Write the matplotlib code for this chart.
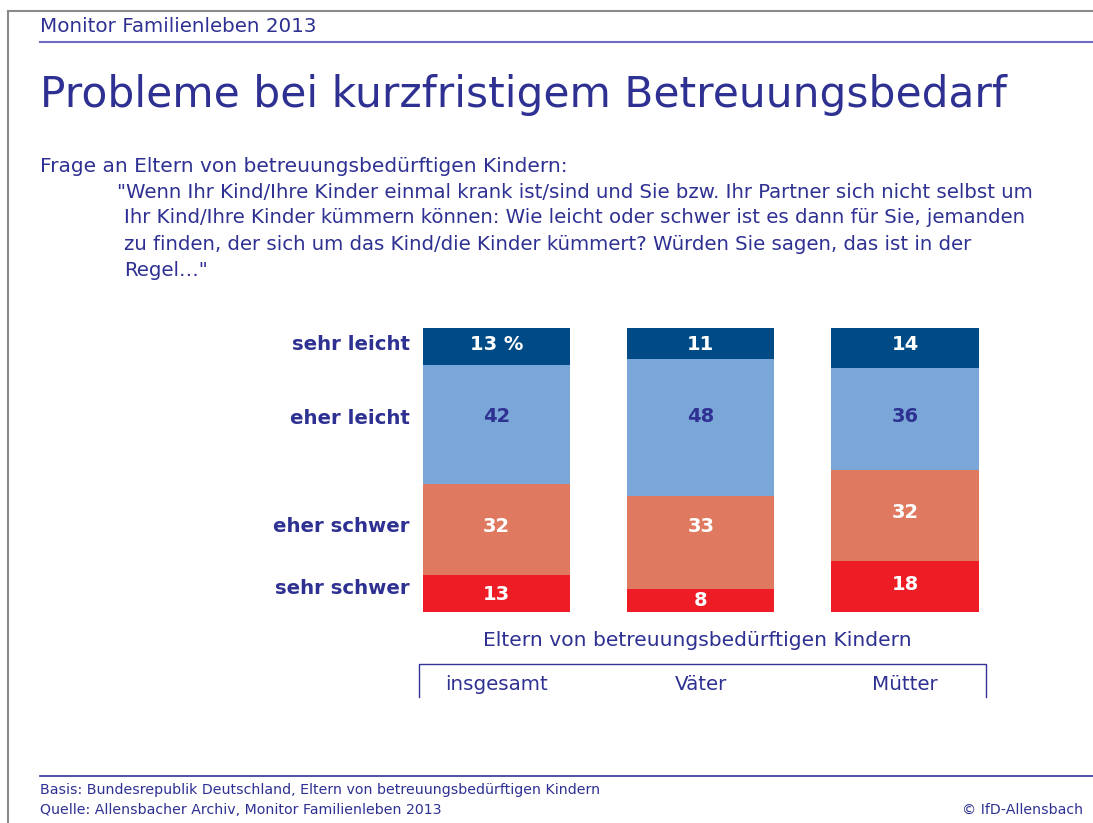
import matplotlib.pyplot as plt
import numpy as np

# Daten
gruppen = ['insgesamt', 'Väter', 'Mütter']
stufen = ['sehr leicht', 'eher leicht', 'eher schwer', 'sehr schwer']
sehr_leicht = [13, 11, 14]
eher_leicht = [42, 48, 36]
eher_schwer = [32, 33, 32]
sehr_schwer = [13, 8, 18]

werte = [sehr_leicht, eher_leicht, eher_schwer, sehr_schwer]
farben = ['#004a85', '#7ba7d8', '#df7a61', '#ee1d25']
textfarben = ['white', '#2e3192', 'white', 'white']

# Lage der Beschriftungen (Pixelzeilen wie im Original)
zeilen_stufen = [345, 418, 526, 588]
zeilen_werte = [[345, 345, 345], [417, 417, 417], [526, 526, 512], [594, 600, 584]]

NAVY = '#2e3192'
W, H = 1093, 823
TOP, BOTTOM = 328, 612

plt.rcParams['font.family'] = 'DejaVu Sans'

fig = plt.figure(figsize=(W / 100, H / 100), dpi=100)


def fx(x):
    return x / W


def fy(y):
    return 1 - y / H


def prozent(y):
    # Pixelzeile -> Position auf der Prozentachse
    return (y - TOP) / (BOTTOM - TOP) * 100


# Rahmen und Linien
fig.add_artist(plt.Line2D([fx(8), fx(8)], [fy(11), fy(823)], color='#8a8a8a', lw=1.5))
fig.add_artist(plt.Line2D([fx(8), fx(1093)], [fy(11), fy(11)], color='#8a8a8a', lw=1.5))
fig.add_artist(plt.Line2D([fx(40), fx(1093)], [fy(42), fy(42)], color='#6b6bc4', lw=1.5))
fig.add_artist(plt.Line2D([fx(40), fx(1093)], [fy(776), fy(776)], color='#333399', lw=1.2))

# Texte oben
fig.text(fx(40), fy(27), 'Monitor Familienleben 2013', color=NAVY, fontsize=14.3,
         va='center', ha='left')
fig.text(fx(40), fy(95), 'Probleme bei kurzfristigem Betreuungsbedarf', color=NAVY,
         fontsize=30.5, va='center', ha='left')
fig.text(fx(40), fy(166), 'Frage an Eltern von betreuungsbedürftigen Kindern:', color=NAVY,
         fontsize=14.5, va='center', ha='left')

frage = [
    '"Wenn Ihr Kind/Ihre Kinder einmal krank ist/sind und Sie bzw. Ihr Partner sich nicht selbst um',
    'Ihr Kind/Ihre Kinder kümmern können: Wie leicht oder schwer ist es dann für Sie, jemanden',
    'zu finden, der sich um das Kind/die Kinder kümmert? Würden Sie sagen, das ist in der',
    'Regel…"',
]
for i, zeile in enumerate(frage):
    x0 = 117 if i == 0 else 124
    fig.text(fx(x0), fy(192 + 26 * i), zeile, color=NAVY, fontsize=14.2, va='center', ha='left')

# Balken
ax = fig.add_axes([394.4 / W, (H - BOTTOM) / H, 612.75 / W, (BOTTOM - TOP) / H])
x = np.arange(len(gruppen))
unten = np.zeros(len(gruppen))
for k, reihe in enumerate(werte):
    reihe = np.array(reihe)
    ax.bar(x, reihe, bottom=unten, width=0.72, color=farben[k], linewidth=0)
    for i in range(len(gruppen)):
        label = f'{reihe[i]} %' if (k == 0 and i == 0) else str(reihe[i])
        ax.text(x[i], prozent(zeilen_werte[k][i]), label, color=textfarben[k], fontsize=14,
                fontweight='bold', ha='center', va='center')
    ax.text(-0.424, prozent(zeilen_stufen[k]), stufen[k], color=NAVY, fontsize=14.2,
            fontweight='bold', ha='right', va='center')
    unten += reihe

ax.set_xlim(-0.5, 2.5)
ax.set_ylim(100, 0)
ax.axis('off')

# Gruppenbeschriftung
fig.text(fx(697), fy(640), 'Eltern von betreuungsbedürftigen Kindern', color=NAVY,
         fontsize=14.6, ha='center', va='center')
fig.add_artist(plt.Line2D([fx(419), fx(419), fx(986), fx(986)],
                          [fy(697), fy(664), fy(664), fy(697)], color='#333399', lw=1))
for i, g in enumerate(gruppen):
    xd = ax.transData.transform((x[i], 0))[0]
    fig.text(xd / W, fy(684), g, color=NAVY, fontsize=14.3, ha='center', va='center')

# Fußzeile
fig.text(fx(40), fy(790), 'Basis: Bundesrepublik Deutschland, Eltern von betreuungsbedürftigen Kindern',
         color=NAVY, fontsize=10.2, ha='left', va='center')
fig.text(fx(40), fy(810), 'Quelle: Allensbacher Archiv, Monitor Familienleben 2013',
         color=NAVY, fontsize=10.2, ha='left', va='center')
fig.text(fx(1083), fy(810), '© IfD-Allensbach', color=NAVY, fontsize=10.2, ha='right', va='center')

plt.savefig('out.png', dpi=100)
